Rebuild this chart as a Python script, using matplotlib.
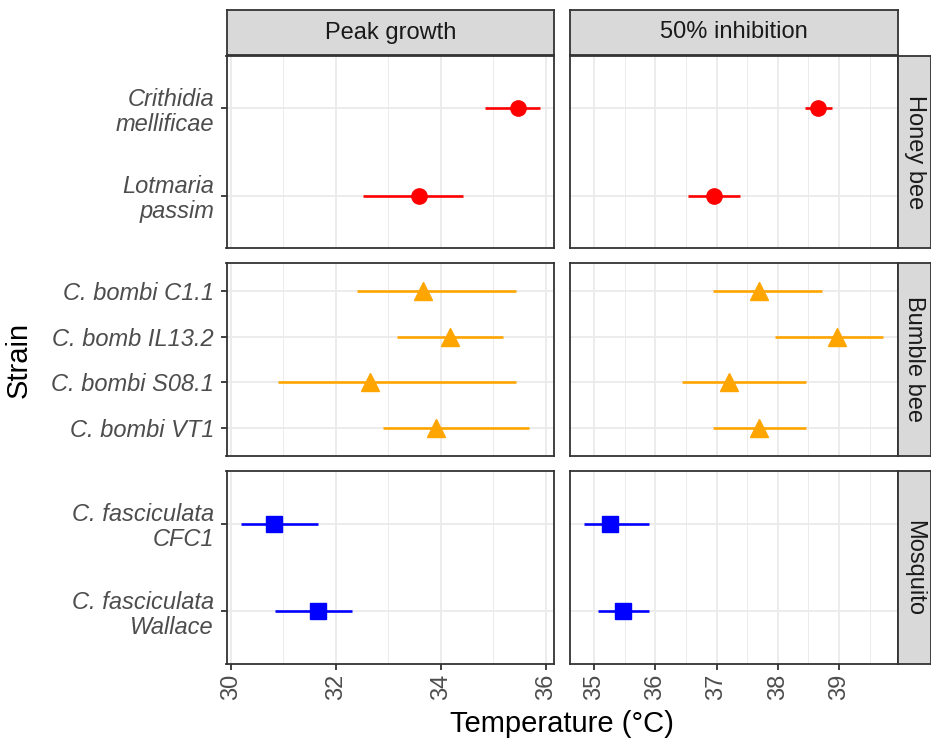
import matplotlib
matplotlib.use("Agg")
import matplotlib.pyplot as plt
from matplotlib.ticker import FixedLocator

plt.rcParams['font.family'] = ['Liberation Sans', 'DejaVu Sans']

hosts = ["Honey bee", "Bumble bee", "Mosquito"]
host_colors = ["#FF0000", "#FFA500", "#0000FF"]
host_markers = ["o", "^", "s"]
host_msize = [11, 13, 11]

strains = [
    ["Crithidia\nmellificae", "Lotmaria\npassim"],
    ["C. bombi C1.1", "C. bomb IL13.2", "C. bombi S08.1", "C. bombi VT1"],
    ["C. fasciculata\nCFC1", "C. fasciculata\nWallace"],
]

measures = ["Peak growth", "50% inhibition"]

# Peak growth: estimate, lower, upper
peak_est = [[35.48, 33.58], [33.66, 34.17, 32.66, 33.92], [30.82, 31.67]]
peak_lo = [[34.84, 32.53], [32.41, 33.17, 30.90, 32.91], [30.20, 30.84]]
peak_hi = [[35.90, 34.42], [35.43, 35.19, 35.43, 35.68], [31.67, 32.31]]

# 50% inhibition
inh_est = [[38.66, 36.96], [37.70, 38.96, 37.20, 37.70], [35.26, 35.47]]
inh_lo = [[38.45, 36.54], [36.94, 37.96, 36.44, 36.94], [34.84, 35.06]]
inh_hi = [[38.88, 37.39], [38.72, 39.72, 38.46, 38.46], [35.90, 35.90]]

est = [peak_est, inh_est]
lo = [peak_lo, inh_lo]
hi = [peak_hi, inh_hi]

xlims = [(29.92, 36.16), (34.61, 39.96)]
xticks = [[30, 32, 34, 36], [35, 36, 37, 38, 39]]
xminor = [[31, 33, 35], [35.5, 36.5, 37.5, 38.5, 39.5]]

W, H = 931, 746
fig = plt.figure(figsize=(W / 100, H / 100), dpi=100)

col_x = [(226.5, 554), (570, 898)]
row_y = [(56, 248), (263, 456), (471, 664)]

def fx(px):
    return px / W

def fy(py):
    return 1 - py / H

border = "#333333"
grid_c = "#EBEBEB"
tick_c = "#4D4D4D"
FS = 17
TITLE_FS = 21

for r in range(3):
    n = len(strains[r])
    ypos = list(range(n, 0, -1))
    for c in range(2):
        x0, x1 = col_x[c]
        y0, y1 = row_y[r]
        ax = fig.add_axes([fx(x0), fy(y1), fx(x1 - x0), (y1 - y0) / H])
        ax.set_xlim(*xlims[c])
        ax.set_ylim(0.4, n + 0.6)
        ax.xaxis.set_major_locator(FixedLocator(xticks[c]))
        ax.xaxis.set_minor_locator(FixedLocator(xminor[c]))
        ax.set_yticks(ypos)
        ax.grid(True, which="major", color=grid_c, lw=1.3)
        ax.grid(True, which="minor", axis="x", color=grid_c, lw=0.7)
        ax.set_axisbelow(True)
        for s in ax.spines.values():
            s.set_color(border)
            s.set_linewidth(1.3)
        ax.tick_params(axis="both", which="major", length=4, width=1.3, color=border,
                       labelcolor=tick_c, labelsize=FS, pad=3)
        ax.tick_params(axis="y", which="major", pad=5)
        ax.tick_params(axis="both", which="minor", length=0)
        if c == 0:
            ax.set_yticklabels(strains[r], style="italic", fontsize=FS,
                               linespacing=1.1)
        else:
            ax.tick_params(axis="y", length=0, labelleft=False)
        if r == 2:
            ax.set_xticklabels([str(t) for t in xticks[c]], rotation=90, fontsize=FS)
        else:
            ax.tick_params(axis="x", length=0, labelbottom=False)
        e = est[c][r]
        l = lo[c][r]
        h = hi[c][r]
        ax.hlines(ypos, l, h, color=host_colors[r], lw=1.9, zorder=2)
        ax.plot(e, ypos, ls="none", marker=host_markers[r], ms=host_msize[r],
                color=host_colors[r], mec=host_colors[r], zorder=3)

        # top strips
        if r == 0:
            sax = fig.add_axes([fx(x0), fy(55), fx(x1 - x0), 45 / H])
            sax.set_facecolor("#D9D9D9")
            sax.set_xticks([]); sax.set_yticks([])
            for s in sax.spines.values():
                s.set_color(border); s.set_linewidth(1.3)
            sax.text(0.5, 0.5, measures[c], ha="center", va="center",
                     fontsize=FS, color="#1A1A1A", transform=sax.transAxes)
    # right strips
    y0, y1 = row_y[r]
    sax = fig.add_axes([fx(898), fy(y1), fx(33), (y1 - y0) / H])
    sax.set_facecolor("#D9D9D9")
    sax.set_xticks([]); sax.set_yticks([])
    for s in sax.spines.values():
        s.set_color(border); s.set_linewidth(1.3)
    sax.text(0.5, 0.5, hosts[r], ha="center", va="center", rotation=-90,
             fontsize=FS, color="#1A1A1A", transform=sax.transAxes)

fig.text(fx(19), fy(360), "Strain", rotation=90, ha="center", va="center",
         fontsize=TITLE_FS, color="black")
fig.text(fx(562), fy(724), "Temperature (°C)", ha="center", va="center",
         fontsize=TITLE_FS, color="black")

fig.savefig("out.png", dpi=100)
